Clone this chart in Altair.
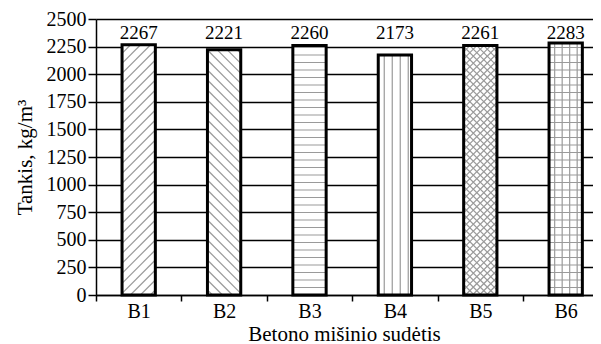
import json
import altair as alt
import pandas as pd

# ---- data ----
categories = ["B1", "B2", "B3", "B4", "B5", "B6"]
density = [2267, 2221, 2260, 2173, 2261, 2283]
patterns = ["/", "\\", "-", "|", "x", "+"]
spacing = [10, 10, 7.5, 8, 7, 7.5]   # hatch spacing (px)

# ---- layout ----
W, H = 497, 276
XMAX = W / 85.4
YMAX = 2500
HW = 0.195
PX = W / XMAX
PY = H / YMAX
FONT = "Liberation Serif"
FS = 20
HATCH = "#9a9a9a"

df = pd.DataFrame({
    "cat": categories,
    "value": density,
    "pattern": patterns,
    "step": spacing,
    "idx": list(range(len(categories))),
})

x_scale = alt.Scale(domain=[0, XMAX], nice=False, zero=False)
y_scale = alt.Scale(domain=[0, YMAX], nice=False)

x_axis = alt.Axis(
    values=[i * 0.5 for i in range(2 * len(categories))],
    title="Betono mišinio sudėtis",
    labelExpr=f"datum.value % 1 == 0.5 ? {json.dumps(categories)}[floor(datum.value)] : ''",
    tickOpacity={"condition": {"test": "datum.value % 1 == 0", "value": 1}, "value": 0},
    grid=False, labelOverlap=False, labelFlush=False,
    tickSize=6, tickWidth=1.5, tickColor="black",
    domainColor="black", domainWidth=1.5,
    labelFont=FONT, labelFontSize=FS, labelColor="black", labelPadding=0,
    titleFont=FONT, titleFontSize=21, titleFontWeight="normal", titleColor="black",
    titleBaseline="alphabetic", titleY=45, titleX=248,
)
y_axis = alt.Axis(
    values=list(range(0, YMAX + 1, 250)),
    format="d",
    title="Tankis, kg/m³",
    grid=True, gridColor="black", gridWidth=1.5,
    tickSize=8, tickWidth=1.5, tickColor="black",
    domainColor="black", domainWidth=1.5,
    labelFont=FONT, labelFontSize=FS, labelColor="black", labelPadding=2,
    titleFont=FONT, titleFontSize=21, titleFontWeight="normal", titleColor="black",
    titlePadding=11,
)

base = alt.Chart(df).transform_calculate(
    x0=f"datum.idx + 0.5 - {HW}",
    x1=f"datum.idx + 0.5 + {HW}",
    xc="datum.idx + 0.5",
    bw=f"{2 * HW * PX}",
    bh=f"datum.value * {PY}",
)

X = lambda f: alt.X(f"{f}:Q", scale=x_scale, axis=x_axis)
Y = lambda f: alt.Y(f"{f}:Q", scale=y_scale, axis=y_axis)

fill = base.mark_rect(fill="white", strokeWidth=0).encode(
    x=X("x0"), x2="x1:Q", y=Y("value"), y2=alt.datum(0)
)

rule_kw = dict(color=HATCH, strokeWidth=1.2, strokeCap="butt")

up = base.transform_filter(
    "datum.pattern == '/' || datum.pattern == 'x'"
).transform_calculate(
    c="sequence(-datum.bw + datum.step / 2, datum.bh, datum.step)"
).transform_flatten(["c"]).transform_calculate(
    u0="max(0, -datum.c)", u1="min(datum.bw, datum.bh - datum.c)"
).transform_calculate(
    hx0=f"datum.x0 + datum.u0 / {PX}", hx1=f"datum.x0 + datum.u1 / {PX}",
    hy0=f"(datum.u0 + datum.c) / {PY}", hy1=f"(datum.u1 + datum.c) / {PY}",
).mark_rule(**rule_kw).encode(x=X("hx0"), x2="hx1:Q", y=Y("hy0"), y2="hy1:Q")

down = base.transform_filter(
    "datum.pattern == '\\\\' || datum.pattern == 'x'"
).transform_calculate(
    c="sequence(datum.step / 2, datum.bw + datum.bh, datum.step)"
).transform_flatten(["c"]).transform_calculate(
    u0="max(0, datum.c - datum.bh)", u1="min(datum.bw, datum.c)"
).transform_calculate(
    hx0=f"datum.x0 + datum.u0 / {PX}", hx1=f"datum.x0 + datum.u1 / {PX}",
    hy0=f"(datum.c - datum.u0) / {PY}", hy1=f"(datum.c - datum.u1) / {PY}",
).mark_rule(**rule_kw).encode(x=X("hx0"), x2="hx1:Q", y=Y("hy0"), y2="hy1:Q")

horiz = base.transform_filter(
    "datum.pattern == '-' || datum.pattern == '+'"
).transform_calculate(
    v="sequence(datum.step, datum.bh, datum.step)"
).transform_flatten(["v"]).transform_calculate(
    hy=f"datum.v / {PY}"
).mark_rule(**rule_kw).encode(x=X("x0"), x2="x1:Q", y=Y("hy"))

vert = base.transform_filter(
    "datum.pattern == '|' || datum.pattern == '+'"
).transform_calculate(
    u="sequence(datum.step * 0.75, datum.bw, datum.step)"
).transform_flatten(["u"]).transform_calculate(
    hx=f"datum.x0 + datum.u / {PX}"
).mark_rule(**rule_kw).encode(x=X("hx"), y=Y("value"), y2=alt.datum(0))

outline = base.mark_rect(fillOpacity=0, stroke="black", strokeWidth=3).encode(
    x=X("x0"), x2="x1:Q", y=Y("value"), y2=alt.datum(0)
)

labels = base.mark_text(
    font=FONT, fontSize=19, color="black", baseline="alphabetic", align="center"
).encode(x=X("xc"), y=alt.value(19.5), text=alt.Text("value:Q"))

chart = alt.layer(fill, up, down, horiz, vert, outline, labels).properties(
    width=W, height=H,
    autosize=alt.AutoSizeParams(type="none"),
    padding={"left": 88, "top": 11, "right": 0, "bottom": 49},
    background="white",
).configure_view(stroke=None)

chart.save("out.html", embed_options={"renderer": "svg", "actions": False})
